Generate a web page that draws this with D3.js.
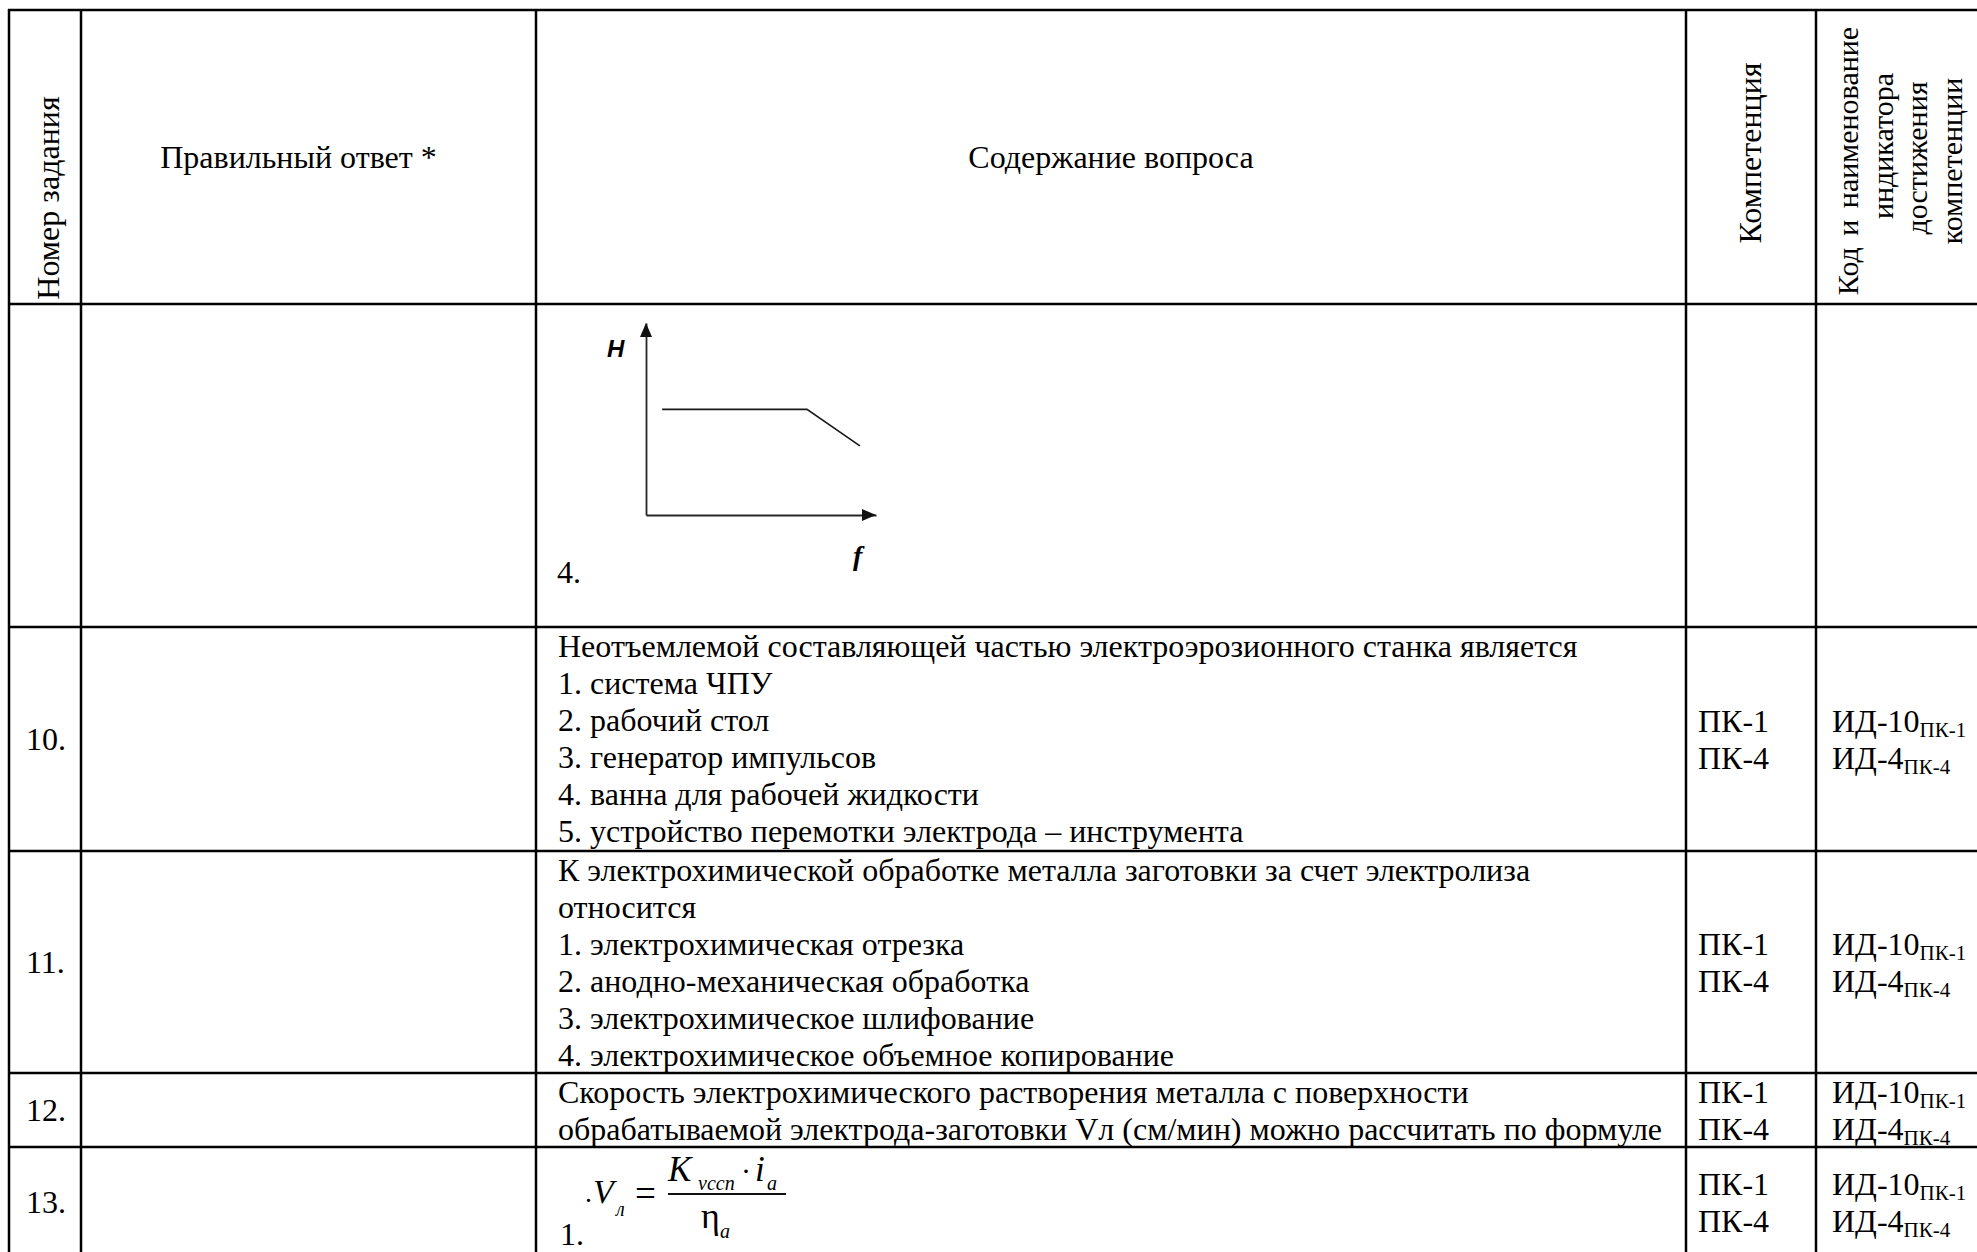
<!DOCTYPE html>
<html>
<head>
<meta charset="utf-8">
<script src="https://cdn.jsdelivr.net/npm/d3@7"></script>
<style>
    body { margin: 0; background: #fff; }
    svg text { font-family: "Liberation Serif", "Times New Roman", serif; fill: #000; }
</style>
</head>
<body>
<div class="chart"></div>
<script>
// header texts
const headNum = "Номер задания";
const headAnswer = "Правильный ответ *";
const headQuestion = "Содержание вопроса";
const headComp = "Компетенция";
const headCode = ["Код и наименование", "индикатора", "достижения", "компетенции"];

// body rows (first one is the tail of task 9 with the sketch)
const taskNums = ["", "10.", "11.", "12.", "13."];
const questions = [
    ["4."],
    ["Неотъемлемой составляющей частью электроэрозионного станка является",
     "1. система ЧПУ",
     "2. рабочий стол",
     "3. генератор импульсов",
     "4. ванна для рабочей жидкости",
     "5. устройство перемотки электрода – инструмента"],
    ["К электрохимической обработке металла заготовки за счет электролиза",
     "относится",
     "1. электрохимическая отрезка",
     "2. анодно-механическая обработка",
     "3. электрохимическое шлифование",
     "4. электрохимическое объемное копирование"],
    ["Скорость электрохимического растворения металла с поверхности",
     "обрабатываемой электрода-заготовки Vл (см/мин) можно рассчитать по формуле"],
    ["1."]
];
const comps = ["ПК-1", "ПК-4"];
const codeMain = ["ИД-10", "ИД-4"];
const codeSub = ["ПК-1", "ПК-4"];
const hasComp = [false, true, true, true, true];

// the little H(f) sketch (axis units 0..100)
const sketchF = [7, 70, 93];
const sketchH = [55, 55, 36];

const W = 1977, H = 1252;
const colX = [9, 81, 536, 1686, 1816, 1977];
const rowY = [10, 304, 627, 851, 1073, 1147, 1257];
const fs = 32, lh = 37;

const svg = d3.select(".chart")
    .append("svg")
    .attr("width", W)
    .attr("height", H)
    .style("display", "block");

svg.append("rect").attr("width", W).attr("height", H).attr("fill", "#fff");

// ---- header ----
svg.append("text")
    .attr("transform", "translate(59,198) rotate(-90)")
    .attr("text-anchor", "middle")
    .attr("font-size", fs)
    .text(headNum);

svg.append("text")
    .attr("x", (colX[1] + colX[2]) / 2 - 10)
    .attr("y", 168)
    .attr("text-anchor", "middle")
    .attr("font-size", fs)
    .text(headAnswer);

svg.append("text")
    .attr("x", (colX[2] + colX[3]) / 2)
    .attr("y", 168)
    .attr("text-anchor", "middle")
    .attr("font-size", fs)
    .text(headQuestion);

svg.append("text")
    .attr("transform", "translate(1761,153) rotate(-90)")
    .attr("text-anchor", "middle")
    .attr("font-size", fs)
    .text(headComp);

const codeMid = [161, 146, 158, 161];
headCode.forEach((t, i) => {
    svg.append("text")
        .attr("transform", `translate(${1858 + i * 34.5},${codeMid[i]}) rotate(-90)`)
        .attr("text-anchor", "middle")
        .attr("font-size", 30)
        .attr("word-spacing", i === 0 ? 4 : 0)
        .text(t);
});

// ---- body rows ----
taskNums.forEach((num, i) => {
    const top = rowY[i + 1], bot = rowY[i + 2];
    const mid = (top + bot) / 2;

    if (num) {
        svg.append("text")
            .attr("x", 26)
            .attr("y", mid + 11)
            .attr("font-size", fs)
            .text(num);
    }

    if (i === 0) {
        svg.append("text").attr("x", 557).attr("y", 583).attr("font-size", fs).text(questions[0][0]);
    } else if (i === 4) {
        svg.append("text").attr("x", 560).attr("y", 1245).attr("font-size", fs).text(questions[4][0]);
    } else {
        questions[i].forEach((line, k) => {
            svg.append("text")
                .attr("x", 558)
                .attr("y", top + 30 + k * lh)
                .attr("font-size", fs)
                .text(line);
        });
    }

    if (hasComp[i]) {
        const b0 = mid - lh + 30;
        comps.forEach((c, k) => {
            svg.append("text")
                .attr("x", 1698)
                .attr("y", b0 + k * lh)
                .attr("font-size", fs)
                .text(c);
            const t = svg.append("text")
                .attr("x", 1832)
                .attr("y", b0 + k * lh)
                .attr("font-size", fs);
            t.append("tspan").text(codeMain[k]);
            t.append("tspan").attr("font-size", 21).attr("dy", 5).text(codeSub[k]);
        });
    }
});

// ---- formula in task 13 ----
const fx = svg.append("g").attr("fill", "#111");
const it = (x, y, s, txt, style) => fx.append("text")
    .attr("x", x).attr("y", y).attr("font-size", s)
    .attr("font-style", style || "italic").text(txt);
it(585, 1202, 28, ".", "normal");
it(593, 1203, 34, "V");
it(616, 1216, 20, "л");
it(635, 1206, 37, "=", "normal");
fx.append("line").attr("x1", 668).attr("x2", 786).attr("y1", 1194).attr("y2", 1194)
    .attr("stroke", "#111").attr("stroke-width", 1.8);
it(668, 1181, 35, "K");
it(698, 1190, 20, "vccn");
it(741, 1181, 30, "·", "normal");
it(755, 1181, 35, "i");
it(767, 1190, 20, "a");
it(701, 1228, 36, "η", "normal");
it(720, 1238, 20, "a");

// ---- H(f) sketch ----
const xs = d3.scaleLinear().domain([0, 100]).range([646, 876]);
const ys = d3.scaleLinear().domain([0, 100]).range([515, 323]);
const ink = "#262626";

svg.append("g")
    .attr("transform", `translate(0,${ys(0)})`)
    .call(d3.axisBottom(xs).tickValues([]).tickSizeOuter(0))
    .call(g => g.select(".domain").attr("stroke", ink).attr("stroke-width", 1.8));

svg.append("g")
    .attr("transform", `translate(${xs(0)},0)`)
    .call(d3.axisLeft(ys).tickValues([]).tickSizeOuter(0))
    .call(g => g.select(".domain").attr("stroke", ink).attr("stroke-width", 1.8));

// arrow heads
svg.append("path")
    .attr("d", `M${xs(0)},${ys(100)} L${xs(0) - 6},${ys(100) + 14} L${xs(0) + 6},${ys(100) + 14} Z`)
    .attr("fill", "#111");
svg.append("path")
    .attr("d", `M${xs(100)},${ys(0)} L${xs(100) - 14},${ys(0) - 6} L${xs(100) - 14},${ys(0) + 6} Z`)
    .attr("fill", "#111");

const pts = sketchF.map((f, i) => [f, sketchH[i]]);
svg.append("path")
    .datum(pts)
    .attr("fill", "none")
    .attr("stroke", "#1a1a1a")
    .attr("stroke-width", 1.7)
    .attr("d", d3.line().x(d => xs(d[0])).y(d => ys(d[1])));

svg.append("text")
    .attr("x", 607).attr("y", 357)
    .style("font-family", "'Liberation Sans', Arial, sans-serif")
    .attr("font-size", 24).attr("font-style", "italic").attr("font-weight", "bold")
    .text("H");
svg.append("text")
    .attr("x", 853).attr("y", 565)
    .attr("font-size", 28).attr("font-style", "italic").attr("font-weight", "bold")
    .text("f");

// ---- grid ----
const grid = svg.append("g").attr("stroke", "#000").attr("stroke-width", 2.5);
rowY.forEach(y => {
    grid.append("line").attr("x1", colX[0] - 1).attr("x2", W).attr("y1", y).attr("y2", y);
});
colX.slice(0, 5).forEach(x => {
    grid.append("line").attr("x1", x).attr("x2", x).attr("y1", rowY[0] - 1).attr("y2", H);
});
</script>
</body>
</html>
